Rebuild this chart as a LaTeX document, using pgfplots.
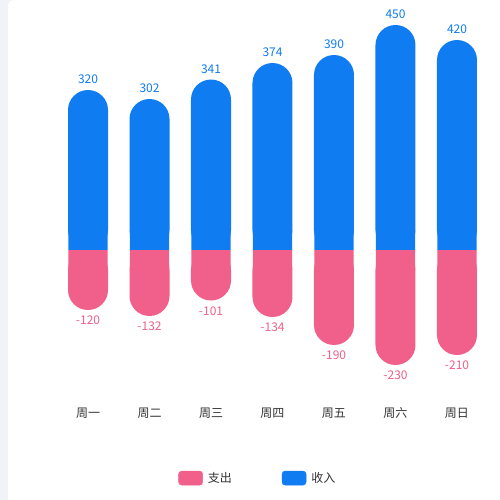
\documentclass[border=0pt]{standalone}
\usepackage{pgfplots}
\pgfplotsset{compat=1.18}
\usepackage{fontspec}
\setmainfont{Noto Sans CJK SC}
\definecolor{bggray}{HTML}{F2F3F8}
\definecolor{incblue}{HTML}{0F7CF2}
\definecolor{exppink}{HTML}{F0608A}
\definecolor{labgray}{HTML}{333333}
\pgfplotsset{mybar/.style={ybar, bar width=40bp, bar shift=0pt, draw=none, forget plot}}
\begin{document}
\begin{tikzpicture}
\fill[bggray] (0,0) rectangle (500bp,500bp);
\fill[white] (8bp,0) -- (8bp,495bp) arc[start angle=180,end angle=90,radius=5bp] -- (500bp,500bp) -- (500bp,0) -- cycle;
\begin{axis}[
  at={(57.25bp,96bp)}, anchor=south west,
  scale only axis, width=430.5bp, height=390bp,
  xmin=-0.5, xmax=6.5, ymin=-308, ymax=472,
  xtick={0,1,2,3,4,5,6},
  xticklabels={周一,周二,周三,周四,周五,周六,周日},
  ytick=\empty,
  axis line style={draw=none}, major tick length=0pt,
  x tick label style={font=\fontsize{12bp}{14bp}\selectfont, text=labgray},
  clip=false,
  /pgf/number format/assume math mode=true,
  legend style={at={(0.466,-0.19)}, anchor=center, draw=none, fill=none,
    font=\fontsize{12bp}{14bp}\selectfont, text=labgray,
    /tikz/every odd column/.append style={column sep=3bp},
    /tikz/every even column/.append style={column sep=48bp}},
  legend columns=2,
]
% income
\addplot[mybar, fill=incblue, rounded corners=20bp,
  nodes near coords, point meta=y,
  every node near coord/.append style={font=\fontsize{12bp}{14bp}\selectfont, text=incblue, inner sep=6bp}]
  coordinates {(0,320) (1,302) (2,341) (3,374) (4,390) (5,450) (6,420)};
\addplot[mybar, fill=incblue, bar width=39.2bp]
  coordinates {(0,40) (1,40) (2,40) (3,40) (4,40) (5,40) (6,40)};
% expense
\addplot[mybar, fill=exppink, rounded corners=20bp,
  nodes near coords, point meta=y,
  every node near coord/.append style={font=\fontsize{12bp}{14bp}\selectfont, text=exppink, inner sep=6bp}]
  coordinates {(0,-120) (1,-132) (2,-101) (3,-134) (4,-190) (5,-230) (6,-210)};
\addplot[mybar, fill=exppink, bar width=39.2bp]
  coordinates {(0,-40) (1,-40) (2,-40) (3,-40) (4,-40) (5,-40) (6,-40)};
\addlegendimage{legend image code/.code={\fill[exppink, rounded corners=3bp] (0bp,-7bp) rectangle (24bp,7bp);}}
\addlegendentry{支出}
\addlegendimage{legend image code/.code={\fill[incblue, rounded corners=3bp] (0bp,-7bp) rectangle (24bp,7bp);}}
\addlegendentry{收入}
\end{axis}
\end{tikzpicture}
\end{document}
